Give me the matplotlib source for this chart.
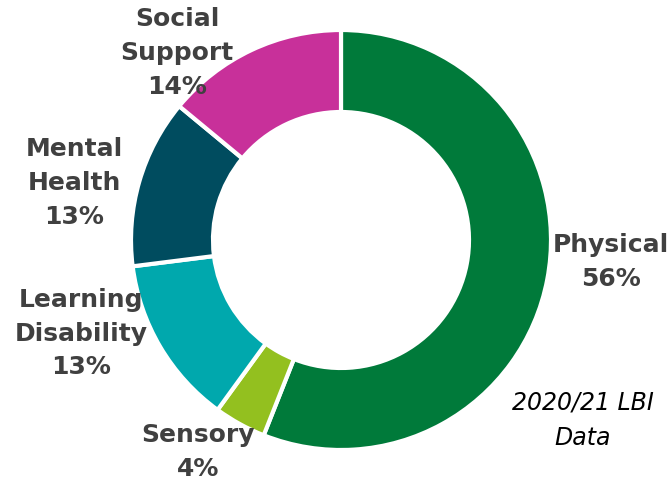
import matplotlib.pyplot as plt

labels = ["Physical", "Sensory", "Learning\nDisability", "Mental\nHealth", "Social\nSupport"]
shares = [56, 4, 13, 13, 14]
colors = ["#007A3A", "#93C01F", "#00A8AD", "#004C5F", "#C8309A"]

# label centres in pixel space (x right, y up)
label_pos = [(611, 220), (198, 30), (81, 148), (74, 299), (177, 429)]

fig = plt.figure(figsize=(6.72, 4.82), dpi=100)
ax = fig.add_axes([0, 0, 1, 1])
ax.set_xlim(0, 672)
ax.set_ylim(0, 482)
ax.set_aspect("equal")
ax.axis("off")

ax.pie(shares, colors=colors, startangle=90, counterclock=False,
       center=(341, 242), radius=210,
       wedgeprops=dict(width=82, edgecolor="white", linewidth=3))

for lab, val, (x, y) in zip(labels, shares, label_pos):
    ax.text(x, y, f"{lab}\n{val}%", ha="center", va="center", multialignment="center",
            fontsize=18, fontweight="bold", color="#404040", linespacing=1.5)

ax.text(583, 62, "2020/21 LBI\nData", ha="center", va="center", fontsize=17,
        style="italic", color="black", linespacing=1.6)

ax.set_xlim(0, 672)
ax.set_ylim(0, 482)
fig.savefig("out.png", dpi=100)
